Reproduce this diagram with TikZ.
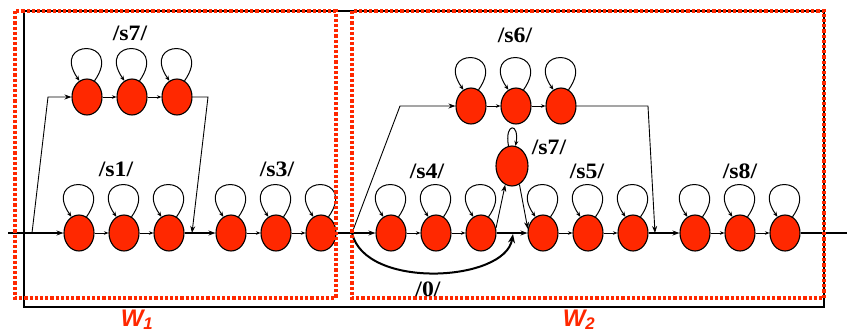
\documentclass[tikz,border=0pt]{standalone}
\usepackage{fontspec}
\setmainfont{Liberation Serif}
\newfontfamily\wfont{Liberation Sans}
\usetikzlibrary{arrows.meta,shapes.geometric}

\definecolor{stfill}{RGB}{255,40,0}
\definecolor{winred}{RGB}{255,40,0}

\tikzset{
  st/.style={ellipse, draw=black, line width=1.1pt, fill=stfill,
             minimum width=30pt, minimum height=36pt, inner sep=0pt},
  stmid/.style={st, minimum width=32pt, minimum height=40pt},
  mainln/.style={line width=1.3pt, -{Stealth[length=7pt,width=5pt]}},
  chainln/.style={line width=0.9pt, -{Stealth[length=4.5pt,width=3.5pt]}},
  branchln/.style={line width=0.9pt, -{Stealth[length=7pt,width=5pt]}},
  loopln/.style={line width=1pt, -{Stealth[length=5pt,width=4pt]}},
  zeroln/.style={line width=2pt, -{Stealth[length=9pt,width=7pt]}},
  lbl/.style={font=\fontsize{22}{22}\selectfont\bfseries, xscale=1.08},
  wlbl/.style={font=\wfont\fontsize{24}{24}\selectfont\bfseries\itshape, text=winred},
  outerbox/.style={draw=black, line width=1.5pt},
  winbox/.style={draw=winred, line width=3.4pt, dash pattern=on 3.2pt off 2pt},
}

% self loop sitting on top of a state
\newcommand\sloop[1]{\draw[loopln] (#1.65) .. controls +(55:52) and +(125:52) .. (#1.115);}

\begin{document}
\begin{tikzpicture}[x=1pt,y=1pt]
\useasboundingbox (0,0) rectangle (847,-333);

% outer frame
\draw[outerbox] (24,-11) rectangle (824,-307);

% states: upper /s7/ branch
\foreach \n/\x in {1/87,2/132,3/177} \node[st] (t\n) at (\x,-97) {};
% /s1/ and /s3/
\foreach \n/\x in {1/79,2/124,3/169} \node[st] (a\n) at (\x,-233) {};
\foreach \n/\x in {1/231,2/276,3/321} \node[st] (b\n) at (\x,-233) {};
% /s6/ branch
\foreach \n/\x in {1/471,2/516,3/561} \node[st] (u\n) at (\x,-106) {};
% /s4/, /s5/, /s8/
\foreach \n/\x in {1/391,2/436,3/481} \node[st] (c\n) at (\x,-233) {};
\foreach \n/\x in {1/543,2/588,3/633} \node[st] (d\n) at (\x,-233) {};
\foreach \n/\x in {1/695,2/740,3/785} \node[st] (e\n) at (\x,-233) {};
% single middle /s7/ state
\node[stmid] (v) at (512,-166) {};

% self loops
\foreach \s in {t1,t2,t3,a1,a2,a3,b1,b2,b3,u1,u2,u3,c1,c2,c3,d1,d2,d3,e1,e2,e3} {\sloop{\s}}
\draw[loopln] (v.100) .. controls +(100:24) and +(80:24) .. (v.80);

% junction points on the main line
\coordinate (in) at (8,-233);
\coordinate (out) at (847,-233);
\coordinate (j1) at (32,-233);
\coordinate (k1) at (48,-97);
\coordinate (m1) at (208,-97);
\coordinate (m2) at (192,-233);
\coordinate (j2) at (352,-233);
\coordinate (k2) at (400,-106);
\coordinate (m3) at (648,-106);
\coordinate (m4) at (655,-233);
\coordinate (z0) at (513,-234);

% main line
\draw[mainln] (in) -- (a1);
\draw[chainln] (a1) -- (a2);
\draw[chainln] (a2) -- (a3);
\draw[mainln] (a3) -- (b1);
\draw[chainln] (b1) -- (b2);
\draw[chainln] (b2) -- (b3);
\draw[mainln] (b3) -- (c1);
\draw[chainln] (c1) -- (c2);
\draw[chainln] (c2) -- (c3);
\draw[mainln] (c3) -- (d1);
\draw[chainln] (d1) -- (d2);
\draw[chainln] (d2) -- (d3);
\draw[mainln] (d3) -- (e1);
\draw[chainln] (e1) -- (e2);
\draw[chainln] (e2) -- (e3);
\draw[line width=1.3pt] (e3) -- (out);

% upper /s7/ branch
\draw[branchln] (j1) -- (k1) -- (t1);
\draw[chainln] (t1) -- (t2);
\draw[chainln] (t2) -- (t3);
\draw[branchln] (t3) -- (m1) -- (m2);

% /s6/ branch
\draw[branchln] (j2) -- (k2) -- (u1);
\draw[chainln] (u1) -- (u2);
\draw[chainln] (u2) -- (u3);
\draw[branchln] (u3) -- (m3) -- (m4);

% detour through the middle /s7/ state
\draw[branchln] (c3.18) -- (v.250);
\draw[branchln] (v.292) -- (d1.165);

% bypass /0/
\draw[zeroln] (j2) .. controls (365,-290) and (505,-282) .. (z0);

% window frames
\draw[winbox] (15,-11) rectangle (336,-298);
\draw[winbox] (352,-11) rectangle (824,-298);

% labels
\node[lbl] (l7a) at (130,-33) {/s7/};
\node[lbl] (l1) at (116,-169) {/s1/};
\node[lbl] (l3) at (277,-169) {/s3/};
\node[lbl] (l6) at (515,-35) {/s6/};
\node[lbl] (l7b) at (549,-147) {/s7/};
\node[lbl] (l4) at (427,-171) {/s4/};
\node[lbl] (l5) at (587,-171) {/s5/};
\node[lbl] (l8) at (740,-171) {/s8/};
\node[lbl] (l0) at (428,-289) {/0/};

\node[wlbl, anchor=north] (w1) at (137,-306) {W\textsubscript{1}};
\node[wlbl, anchor=north] (w2) at (579,-306) {W\textsubscript{2}};
\end{tikzpicture}
\end{document}
